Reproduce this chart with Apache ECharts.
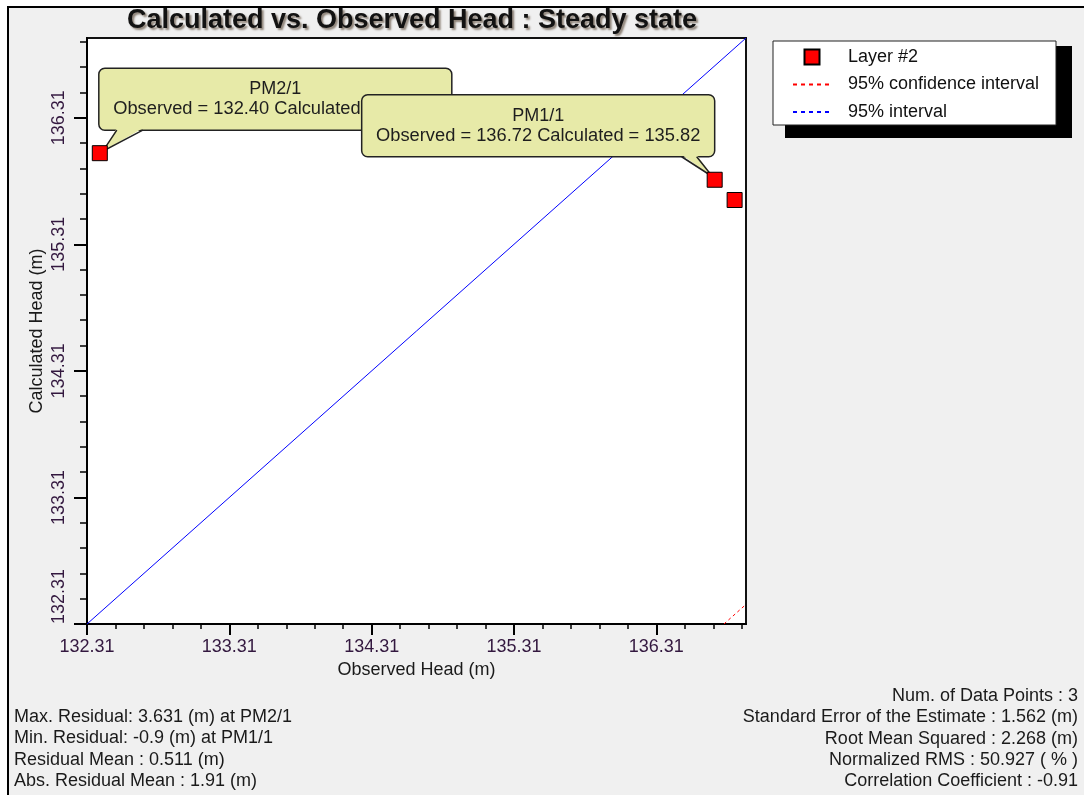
<!DOCTYPE html>
<html><head><meta charset="utf-8">
<script src="https://cdn.jsdelivr.net/npm/echarts@6/dist/echarts.min.js"></script>
<style>html,body{margin:0;padding:0;background:#fff}#c{width:1084px;height:795px}</style>
</head><body><div id="c"></div>
<script>
// ---- data ----
const pointNames = ['PM2/1', 'PM1/1', ''];
const observed   = [132.40, 136.72, 136.86];
const calculated = [136.03, 135.82, 135.66];
const calloutIndex = [0, 1];
const calloutSide  = ['right', 'left'];
const axisMin = 132.31, axisMax = 136.94;
const majorTicks = [132.31, 133.31, 134.31, 135.31, 136.31];
const oneToOneX = [132.31, 136.94];
const oneToOneY = [132.31, 136.94];
const confX = [136.785, 136.94];
const confY = [132.31, 132.465];
const leftStats = ['Max. Residual: 3.631 (m) at PM2/1', 'Min. Residual: -0.9 (m) at PM1/1', 'Residual Mean : 0.511 (m)', 'Abs. Residual Mean : 1.91 (m)'];
const rightStats = ['Num. of Data Points : 3', 'Standard Error of the Estimate : 1.562 (m)', 'Root Mean Squared : 2.268 (m)', 'Normalized RMS : 50.927 ( % )', 'Correlation Coefficient : -0.91'];

// minor tick positions (every 0.2 between labelled ticks)
const minorTicks = [];
for (let k = 1; ; k++) {
  const v = +(axisMin + k * 0.2).toFixed(2);
  if (v > axisMax) break;
  if (majorTicks.indexOf(v) < 0) minorTicks.push(v);
}

const FONT = '"Liberation Sans", Arial, sans-serif';
const labelColor = '#33183f';
const chart = echarts.init(document.getElementById('c'));

function axisCommon(isX, idx) {
  const major = idx === 0;
  const o = {
    type: 'value', min: axisMin, max: axisMax,
    position: isX ? 'bottom' : 'left',
    axisLine: { show: major, onZero: false, lineStyle: { color: '#000', width: 2 } },
    axisTick: { show: true, customValues: major ? majorTicks : minorTicks,
      length: major ? (isX ? 11 : 13) : (isX ? 5 : 7),
      lineStyle: { color: '#000', width: major ? 2 : 1.5 } },
    axisLabel: major ? { show: true, customValues: majorTicks, formatter: v => v.toFixed(2),
      color: labelColor, fontSize: 18, fontFamily: FONT, margin: isX ? 14 : 19, rotate: isX ? 0 : 90,
      alignMinLabel: isX ? 'center' : 'left' } : { show: false },
    splitLine: { show: false },
    minorTick: { show: false }
  };
  if (major) {
    o.name = isX ? 'Observed Head (m)' : 'Calculated Head (m)';
    o.nameLocation = 'middle';
    o.nameGap = isX ? 36 : 41;
    if (!isX) o.nameMoveOverlap = false;
    o.nameTextStyle = { color: '#1a1a1a', fontSize: 18, fontFamily: FONT };
  }
  return o;
}

const graphics = [
  { type: 'rect', z: -1, shape: { x: 8, y: 7, width: 1200, height: 900 }, style: { fill: '#f0f0f0', stroke: '#000', lineWidth: 2 } },
  { type: 'rect', z: 1, shape: { x: 785, y: 46, width: 287, height: 92 }, style: { fill: '#000' } },
  { type: 'rect', z: 1, shape: { x: 773, y: 41, width: 283, height: 84 }, style: { fill: '#fff', stroke: '#222', lineWidth: 1 } },
  { type: 'text', z: 1, style: { text: 'Calculated vs. Observed Head : Steady state', x: 412, y: 21, align: 'center', verticalAlign: 'middle',
      font: 'bold 27px ' + FONT, fill: '#121212', textShadowColor: 'rgba(60,40,20,0.55)', textShadowBlur: 2, textShadowOffsetX: 2, textShadowOffsetY: 2 } }
];
leftStats.forEach((t, i) => graphics.push({ type: 'text', z: 1, style: { text: t, x: 14, y: 717 + i * 21.3, align: 'left', verticalAlign: 'middle', font: '18px ' + FONT, fill: '#1a1a1a' } }));
rightStats.forEach((t, i) => graphics.push({ type: 'text', z: 1, style: { text: t, x: 1078, y: 696 + i * 21.3, align: 'right', verticalAlign: 'middle', font: '18px ' + FONT, fill: '#1a1a1a' } }));

const calloutData = calloutIndex.map((k, j) => [observed[k], calculated[k], k, j]);

const option = {
  animation: false,
  grid: { left: 87, right: 338, top: 38, bottom: 171, show: true, backgroundColor: '#fff', borderColor: '#111', borderWidth: 2 },
  xAxis: [axisCommon(true, 0), axisCommon(true, 1)],
  yAxis: [axisCommon(false, 0), axisCommon(false, 1)],
  legend: {
    orient: 'vertical', left: 773, top: 44, padding: [4, 10, 4, 19], z: 4,
    itemWidth: 38, itemHeight: 15, itemGap: 9.5, selectedMode: false,
    textStyle: { fontFamily: FONT, fontSize: 18, color: '#111', lineHeight: 18, padding: [0, 0, 0, 12] },
    data: [
      { name: 'Layer #2', icon: 'path://M0,0h10v10h-10z' },
      { name: '95% confidence interval', lineStyle: { type: [4, 4] }, itemStyle: { opacity: 0 } },
      { name: '95% interval', lineStyle: { type: [4, 4] }, itemStyle: { opacity: 0 } }
    ]
  },
  graphic: graphics,
  series: [
    { name: '95% interval', type: 'line', symbol: 'none', z: 2, silent: true,
      data: oneToOneX.map((x, i) => [x, oneToOneY[i]]), itemStyle: { color: '#0000ff' }, lineStyle: { color: '#0000ff', width: 1 } },
    { name: '95% confidence interval', type: 'line', symbol: 'none', z: 2, silent: true,
      data: confX.map((x, i) => [x, confY[i]]), itemStyle: { color: '#ff0000' }, lineStyle: { color: '#ff0000', width: 1, type: [3, 3] } },
    { name: 'Layer #2', type: 'scatter', symbol: 'rect', symbolSize: 15, z: 4,
      data: observed.map((x, i) => ({ name: pointNames[i], value: [x, calculated[i]] })),
      itemStyle: { color: '#ff0000', borderColor: '#000', borderWidth: 1, opacity: 1 } },
    { type: 'custom', z: 3, silent: true, data: calloutData,
      renderItem: function (params, api) {
        const p = api.coord([api.value(0), api.value(1)]);
        const k = api.value(2), j = api.value(3);
        const W = 353, H = 62, by = p[1] - 85;
        let bx, tip, b1, b2;
        if (calloutSide[j] === 'right') {
          bx = p[0] - 1; tip = [p[0] + 3, p[1] - 2]; b1 = [p[0] + 17, by + H]; b2 = [p[0] + 43, by + H];
        } else {
          bx = p[0] - W; tip = [p[0] - 2, p[1] - 3]; b1 = [p[0] - 33, by + H]; b2 = [p[0] - 18, by + H];
        }
        const fill = '#e7eaa8', stroke = '#222';
        return { type: 'group', children: [
          { type: 'rect', shape: { x: bx, y: by, width: W, height: H, r: 6 }, style: { fill: fill, stroke: stroke, lineWidth: 1.5 } },
          { type: 'polygon', shape: { points: [[b1[0], b1[1] - 2], tip, [b2[0], b2[1] - 2]] }, style: { fill: fill } },
          { type: 'polyline', shape: { points: [b1, tip, b2] }, style: { stroke: stroke, lineWidth: 1.5, fill: null } },
          { type: 'text', style: { text: pointNames[k], x: bx + W / 2, y: by + 21, align: 'center', verticalAlign: 'middle', font: '18px ' + FONT, fill: '#1e1e1e' } },
          { type: 'text', style: { text: 'Observed = ' + observed[k].toFixed(2) + ' Calculated = ' + calculated[k].toFixed(2), x: bx + W / 2, y: by + 41, align: 'center', verticalAlign: 'middle', font: '18.3px ' + FONT, fill: '#1e1e1e' } }
        ] };
      }
    }
  ]
};
chart.setOption(option);
</script></body></html>
